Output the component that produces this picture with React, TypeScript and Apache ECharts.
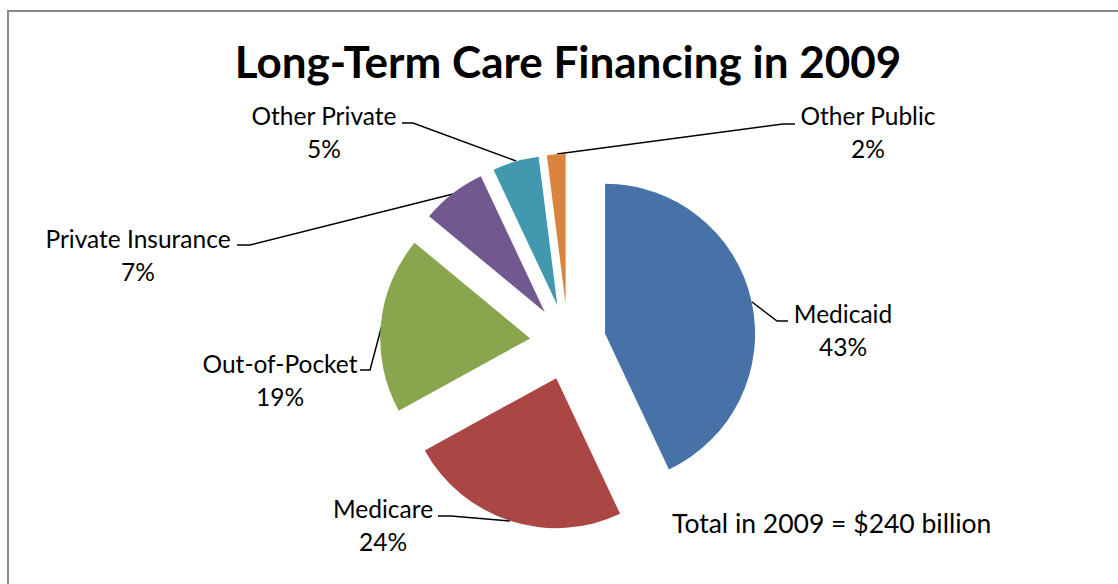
import { useEffect, useRef } from "react";
import * as echarts from "echarts";

// Long-term care financing shares (percent of total), 2009
const categories = [
  "Medicaid",
  "Medicare",
  "Out-of-Pocket",
  "Private Insurance",
  "Other Private",
  "Other Public",
];
const shares = [43, 24, 19, 7, 5, 2];
const sliceColors = ["#4672A8", "#AA4744", "#89A54E", "#71588F", "#4198AF", "#DB843D"];

const chartTitle = "Long-Term Care Financing in 2009";
const totalNote = "Total in 2009 = $240 billion";

// Where each label block sits and how its leader line runs (slice edge -> elbow -> label)
const labelSpots: { x: number; y: number; line: number[][] }[] = [
  { x: 843, y: 330, line: [[752, 302], [777, 321], [788, 321]] },
  { x: 383, y: 525, line: [[510, 521], [451, 516], [438, 516]] },
  { x: 280, y: 380, line: [[382, 325], [370, 370], [360, 370]] },
  { x: 138, y: 255, line: [[453, 194], [250, 245], [237, 245]] },
  { x: 324, y: 132, line: [[516, 161], [413, 123], [402, 123]] },
  { x: 868, y: 132, line: [[557, 154], [783, 124], [795, 124]] },
];

const FONT = "Lato, 'Open Sans', sans-serif";

export default function App() {
  const ref = useRef<HTMLDivElement>(null);

  useEffect(() => {
    if (!ref.current) return;
    const chart = echarts.init(ref.current, undefined, { renderer: "svg" });

    const leaderLines = categories.map((_, i) => ({
      type: "polyline",
      silent: true,
      shape: { points: labelSpots[i].line },
      style: { stroke: "#000000", lineWidth: 1.5, fill: "none" },
    }));

    const labelTexts = categories.map((name, i) => ({
      type: "text",
      silent: true,
      x: labelSpots[i].x,
      y: labelSpots[i].y,
      style: {
        text: `${name}\n${shares[i]}%`,
        font: `24.5px ${FONT}`,
        lineHeight: 33,
        fill: "#000000",
        textAlign: "center",
        textVerticalAlign: "middle",
      },
    }));

    chart.setOption({
      animation: false,
      backgroundColor: "#ffffff",
      graphic: [
        {
          type: "rect",
          silent: true,
          shape: { x: 8, y: 11, width: 1200, height: 700 },
          style: { fill: "none", stroke: "#8a8a8a", lineWidth: 2 },
        },
        {
          type: "text",
          x: 568,
          y: 61,
          style: {
            text: chartTitle,
            font: `bold 44px ${FONT}`,
            fill: "#000000",
            textAlign: "center",
            textVerticalAlign: "middle",
          },
        },
        {
          type: "text",
          x: 672,
          y: 523,
          style: {
            text: totalNote,
            font: `26.5px ${FONT}`,
            fill: "#000000",
            textAlign: "left",
            textVerticalAlign: "middle",
          },
        },
        ...leaderLines,
        ...labelTexts,
      ],
      series: [
        {
          type: "pie",
          center: [568, 342],
          radius: 150,
          startAngle: 90,
          clockwise: true,
          selectedMode: "multiple",
          selectedOffset: 38,
          emphasis: { disabled: true },
          label: { show: false },
          labelLine: { show: false },
          itemStyle: { borderWidth: 0 },
          data: categories.map((name, i) => ({
            name,
            value: shares[i],
            selected: true,
            itemStyle: { color: sliceColors[i] },
          })),
        },
      ],
    });

    return () => chart.dispose();
  }, []);

  return (
    <div
      ref={ref}
      style={{ position: "fixed", left: 0, top: 0, width: 1118, height: 584 }}
    />
  );
}
